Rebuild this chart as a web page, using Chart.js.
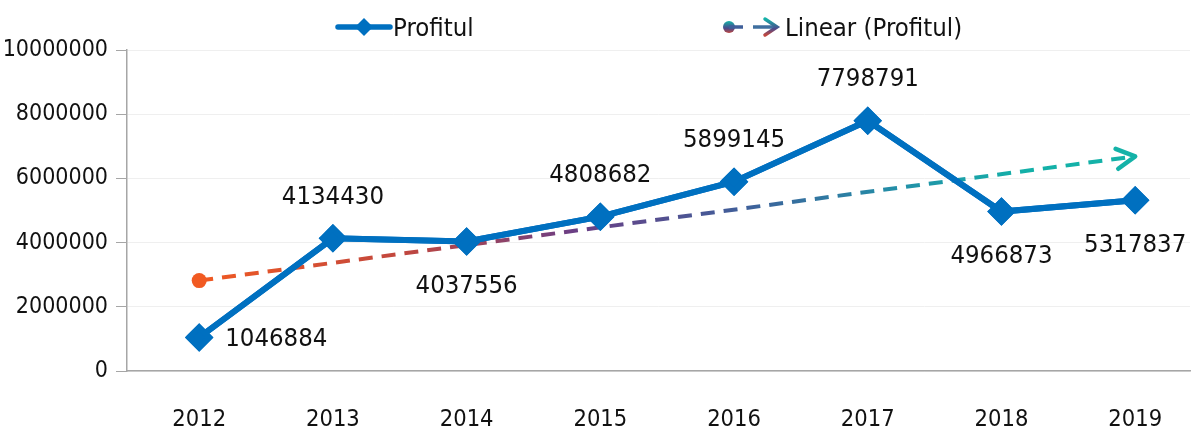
<!DOCTYPE html>
<html lang="ro">
  <head>
    <meta charset="utf-8" />
    <title>Profitul</title>
    <style>
      html, body { margin: 0; padding: 0; background: #fff; }
      body { width: 1192px; height: 432px; position: relative; overflow: hidden;
        font-family: "Liberation Sans Narrow", "DejaVu Sans Condensed", "Noto Sans", sans-serif; }
      #wrap { position: absolute; left: 0; top: 0; width: 1192px; height: 432px; }
      .legend { position: absolute; top: 10px; font-size: 25.5px; color: #111; line-height: 34px; white-space: nowrap; }
      .legend svg { vertical-align: middle; position: relative; top: -2px; }
    </style>
  </head>
  <body>
    <div id="wrap"><canvas id="myChart"></canvas></div>
    <div class="legend" style="left:335px">
      <svg width="58" height="24" viewBox="0 0 58 24">
        <line x1="3" y1="12" x2="55" y2="12" stroke="#0070C0" stroke-width="5.5" stroke-linecap="round" />
        <polygon points="29,3 38,12 29,21 20,12" fill="#0070C0" />
      </svg><span>Profitul</span>
    </div>
    <div class="legend" style="left:719px">
      <svg width="66" height="24" viewBox="0 0 66 24">
        <defs>
          <linearGradient id="lg" x1="0" y1="0" x2="0" y2="1">
            <stop offset="0" stop-color="#14b2a8" />
            <stop offset="0.6" stop-color="#4a4a8c" />
            <stop offset="1" stop-color="#c0473f" />
          </linearGradient>
        </defs>
        <circle cx="10" cy="12" r="6" fill="url(#lg)" />
        <line x1="10" y1="12" x2="24" y2="12" stroke="#3f5f9a" stroke-width="3.5" />
        <line x1="34" y1="12" x2="58" y2="12" stroke="#3f6f9f" stroke-width="3.5" />
        <polyline points="46,4 58,12 46,20" fill="none" stroke="url(#lg)" stroke-width="3.5" stroke-linecap="round" />
      </svg><span>Linear (Profitul)</span>
    </div>
    <script src="https://cdn.jsdelivr.net/npm/chart.js"></script>
    <script>
      const years = [2012, 2013, 2014, 2015, 2016, 2017, 2018, 2019];
      const profitValues = [1046884, 4134430, 4037556, 4808682, 5899145, 7798791, 4966873, 5317837];
      // linear trend (ends)
      const trendYears = [2012, 2019];
      const trendValues = [2816566, 6685984];
      const yTicks = [0, 2000000, 4000000, 6000000, 8000000, 10000000];
      const labelPos = ["right", "top", "bottom", "top", "top", "top", "bottom", "bottom"];

      const FONT = '"Liberation Sans Narrow", "DejaVu Sans Condensed", "Noto Sans", sans-serif';

      function trendGradient(ctx) {
        const chart = ctx.chart;
        const area = chart.chartArea;
        if (!area) return "#3f5f9a";
        const x = chart.scales.x;
        const g = chart.ctx.createLinearGradient(x.getPixelForValue(2012), 0, x.getPixelForValue(2019), 0);
        g.addColorStop(0, "#f15a22");
        g.addColorStop(0.22, "#c0473f");
        g.addColorStop(0.4, "#6b3f85");
        g.addColorStop(0.58, "#3f5f9a");
        g.addColorStop(0.75, "#2290a8");
        g.addColorStop(0.88, "#14b0a8");
        g.addColorStop(1, "#14b2a8");
        return g;
      }

      const extras = {
        id: "extras",
        afterDatasetsDraw(chart) {
          const ctx = chart.ctx;
          // arrow head on trend line
          const tm = chart.getDatasetMeta(1).data;
          const a = tm[0], b = tm[tm.length - 1];
          const ang = Math.atan2(b.y - a.y, b.x - a.x);
          ctx.save();
          ctx.strokeStyle = "#14b2a8";
          ctx.lineWidth = 4.5;
          ctx.lineCap = "round";
          ctx.lineJoin = "round";
          ctx.beginPath();
          const L = 21, s = 0.5;
          ctx.moveTo(b.x - L * Math.cos(ang - s), b.y - L * Math.sin(ang - s));
          ctx.lineTo(b.x, b.y);
          ctx.lineTo(b.x - L * Math.cos(ang + s), b.y - L * Math.sin(ang + s));
          ctx.stroke();
          // start circle
          ctx.fillStyle = "#f15a22";
          ctx.beginPath();
          ctx.arc(a.x, a.y, 7.5, 0, Math.PI * 2);
          ctx.fill();
          ctx.restore();

          // redraw main line on top
          chart.getDatasetMeta(0).controller.draw();

          // data labels
          const pm = chart.getDatasetMeta(0).data;
          ctx.save();
          ctx.font = "25.5px " + FONT;
          ctx.fillStyle = "#111";
          ctx.textBaseline = "middle";
          pm.forEach((p, i) => {
            const txt = String(profitValues[i]);
            const pos = labelPos[i];
            if (pos === "right") {
              ctx.textAlign = "left";
              ctx.fillText(txt, p.x + 26, p.y + 2);
            } else if (pos === "top") {
              ctx.textAlign = "center";
              ctx.fillText(txt, p.x, p.y - 41);
            } else {
              ctx.textAlign = "center";
              ctx.fillText(txt, p.x, p.y + 45);
            }
          });
          ctx.restore();
        },
      };

      new Chart(document.getElementById("myChart"), {
        type: "line",
        data: {
          datasets: [
            {
              label: "Profitul",
              data: years.map((y, i) => ({ x: y, y: profitValues[i] })),
              borderColor: "#0070C0",
              backgroundColor: "#0070C0",
              borderWidth: 6,
              pointStyle: "rectRot",
              pointRadius: 10,
              pointHoverRadius: 10,
              tension: 0,
            },
            {
              label: "Linear (Profitul)",
              data: trendYears.map((y, i) => ({ x: y, y: trendValues[i] })),
              borderColor: trendGradient,
              borderWidth: 4,
              borderDash: [14, 9],
              pointRadius: 0,
              tension: 0,
            },
          ],
        },
        plugins: [extras],
        options: {
          responsive: true,
          maintainAspectRatio: false,
          animation: false,
          layout: { autoPadding: false, padding: { top: 50, right: 2, left: 0, bottom: 0 } },
          plugins: { legend: { display: false }, tooltip: { enabled: false } },
          scales: {
            x: {
              type: "linear",
              min: 2011.46,
              max: 2019.41,
              afterBuildTicks(axis) {
                axis.ticks = years.map((v) => ({ value: v }));
              },
              afterFit(axis) {
                axis.height = 61;
                axis.paddingLeft = 0;
                axis.paddingRight = 0;
              },
              grid: { display: false, drawTicks: false },
              border: { display: true, color: "#a6a6a6", width: 1.5 },
              ticks: {
                callback: (v) => String(v),
                font: { family: FONT, size: 23.5 },
                color: "#111",
                padding: 35,
                maxRotation: 0,
              },
            },
            y: {
              min: 0,
              max: 10000000,
              afterBuildTicks(axis) {
                axis.ticks = yTicks.map((v) => ({ value: v }));
              },
              afterFit(axis) {
                axis.width = 127;
                axis.paddingTop = 0;
                axis.paddingBottom = 0;
              },
              grid: { color: "#efefef", tickColor: "#a6a6a6", tickLength: 11, lineWidth: 1 },
              border: { display: true, color: "#a6a6a6", width: 1.5 },
              ticks: {
                callback: (v) => String(v),
                font: { family: FONT, size: 23 },
                color: "#111",
                padding: 8,
              },
            },
          },
        },
      });
    </script>
  </body>
</html>
